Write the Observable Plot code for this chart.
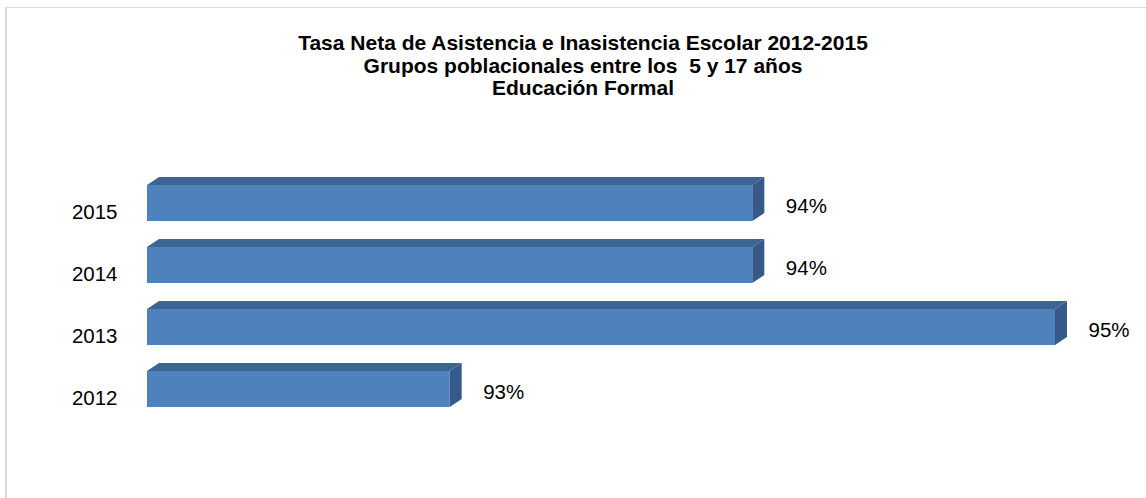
<!DOCTYPE html>
<html>
<head>
<meta charset="utf-8">
<script src="https://cdn.jsdelivr.net/npm/d3@7"></script>
<script src="https://cdn.jsdelivr.net/npm/@observablehq/plot@0.6"></script>
<style>
  body { margin: 0; background: #fff; }
  #wrap { position: relative; width: 1146px; height: 498px; overflow: hidden; font-family: "Liberation Sans", Arial, sans-serif; }
  #frame { position: absolute; left: 5px; top: 7px; width: 1170px; height: 540px; border-left: 2px solid #d9d9d9; border-top: 1px solid #d9d9d9; box-sizing: border-box; }
  #title { position: absolute; left: 10px; width: 1146px; top: 32px; text-align: center; font-weight: bold; font-size: 21px; line-height: 22.5px; color: #000; }
  #chart { position: absolute; left: 0; top: 0; }
</style>
</head>
<body>
<div id="wrap">
  <div id="frame"></div>
  <div id="chart"></div>
  <div id="title">Tasa Neta de Asistencia e Inasistencia Escolar 2012-2015<br>Grupos poblacionales entre los&nbsp; 5 y 17 años<br>Educación Formal</div>
</div>
<script>
// Data
const years = ["2015", "2014", "2013", "2012"];
const rates = [94, 94, 95, 93];
const rateLabels = ["94%", "94%", "95%", "93%"];
const axisMin = 92;

const data = years.map((y, i) => ({ year: y, rate: rates[i], label: rateLabels[i] }));

const FRONT = "#4F81BD", TOP = "#3D6594", SIDE = "#35598A";
const DX = 12, DY = 8;

function faces(index, scales, values) {
  const g = d3.create("svg:g");
  const bw = scales.y.bandwidth();
  for (const i of index) {
    const x1 = values.x1[i], x2 = values.x2[i], y0 = values.y[i], y1 = y0 + bw;
    g.append("path").attr("fill", TOP)
      .attr("d", `M${x1},${y0}L${x1 + DX},${y0 - DY}L${x2 + DX},${y0 - DY}L${x2},${y0}Z`);
    g.append("path").attr("fill", SIDE)
      .attr("d", `M${x2},${y0}L${x2 + DX},${y0 - DY}L${x2 + DX},${y1 - DY}L${x2},${y1}Z`);
  }
  return g.node();
}

const chart = Plot.plot({
  width: 1146,
  height: 498,
  marginLeft: 147,
  marginRight: 91,
  marginTop: 185,
  marginBottom: 91,
  x: { domain: [axisMin, d3.max(rates)], axis: null },
  y: { domain: years, paddingInner: 0.42, paddingOuter: 0, label: null },
  style: { fontFamily: "'Liberation Sans', Arial, sans-serif", fontSize: "20.5px", color: "#000", background: "transparent", overflow: "visible" },
  marks: [
    Plot.barX(data, { x1: axisMin, x2: "rate", y: "year", fill: FRONT }),
    Plot.barX(data, { x1: axisMin, x2: "rate", y: "year", fill: TOP, render: faces }),
    Plot.axisY({ tickSize: 0, tickPadding: 30, dy: 9, fontSize: 20.5, label: null }),
    Plot.text(data, { x: "rate", y: "year", text: "label", dx: 33, dy: 3, textAnchor: "start", fontSize: 20.5, fill: "#000" })
  ]
});
document.getElementById("chart").appendChild(chart);
</script>
</body>
</html>
